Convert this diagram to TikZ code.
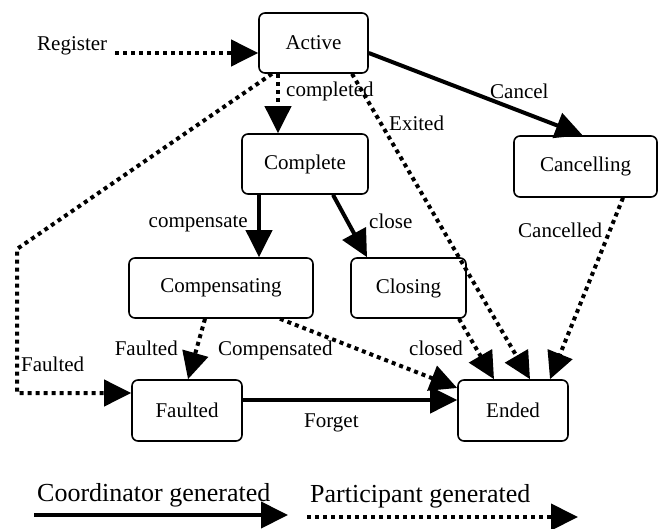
\documentclass[tikz,border=0pt]{standalone}
\usepackage{fontspec}
\setmainfont{Liberation Serif}
\usetikzlibrary{arrows.meta,calc}
\begin{document}
\begin{tikzpicture}[x=1pt,y=-1pt,
  state/.style={draw, rounded corners=6pt, line width=1.6pt, inner sep=0pt,
    font=\fontsize{21}{24}\selectfont},
  lbl/.style={inner sep=0pt, font=\fontsize{21}{24}\selectfont},
  leg/.style={inner sep=0pt, font=\fontsize{26}{30}\selectfont},
  solidarr/.style={line width=4pt, -{Triangle[length=27pt,width=26pt]}},
  dotarr/.style={line width=4pt, dash pattern=on 4pt off 4pt,
    -{Triangle[length=27pt,width=26pt]}},
]
\useasboundingbox (0,0) rectangle (660,529);

% states
\node[state, minimum width=109pt, minimum height=60pt] (active) at (313.5,43) {Active};
\node[state, minimum width=126pt, minimum height=60pt] (complete) at (305,164) {Complete};
\node[state, minimum width=143pt, minimum height=61pt] (cancelling) at (585.5,166.5) {Cancelling};
\node[state, minimum width=184pt, minimum height=60pt] (compensating) at (221,288) {Compensating};
\node[state, minimum width=115pt, minimum height=60pt] (closing) at (408.5,288) {Closing};
\node[state, minimum width=110pt, minimum height=61pt] (faulted) at (187,410.5) {Faulted};
\node[state, minimum width=110pt, minimum height=61pt] (ended) at (513,410.5) {Ended};

% labels
\node[lbl, anchor=base west] (lreg) at (37,51) {Register};
\node[lbl, anchor=base west] (lcompleted) at (286,97) {completed};
\node[lbl, anchor=base west] (lfaultedA) at (21,371) {Faulted};
\node[lbl, anchor=base west] (lexited) at (389,131) {Exited};
\node[lbl, anchor=base west] (lcancel) at (490,99) {Cancel};
\node[lbl, anchor=base east] (lcompensate) at (248,227) {compensate};
\node[lbl, anchor=base west] (lclose) at (369,228) {close};
\node[lbl, anchor=base west] (lcancelled) at (518,237) {Cancelled};
\node[lbl, anchor=base east] (lfaultedB) at (178,355) {Faulted};
\node[lbl, anchor=base west] (lcompensated) at (218,355) {Compensated};
\node[lbl, anchor=base west] (lclosed) at (409,355) {closed};
\node[lbl, anchor=base west] (lforget) at (304,427) {Forget};
\node[leg, anchor=base west] (lcoord) at (37,501) {Coordinator generated};
\node[leg, anchor=base west] (lpart) at (310,502) {Participant generated};

% free ends
\coordinate (regstart) at (115,53);
\coordinate (fbend) at (17,249);
\coordinate (l1a) at (34,515);
\coordinate (l1b) at (288,515);
\coordinate (l2a) at (307,517);
\coordinate (l2b) at (578,517);

% connectors
\draw[dotarr] (regstart) -- ($(active.west)+(0,10)$);
\draw[dotarr] ($(active.south)+(-35.5,0)$) -- ($(complete.north)+(-27,0)$);
\draw[dotarr] ($(active.south)+(-41.5,0)$) -- (fbend) |- ($(faulted.west)+(0,-17.5)$);
\draw[dotarr] ($(active.south)+(38.5,0)$) -- ($(ended.north)+(17,0)$);
\draw[solidarr] ($(active.east)+(0,10)$) -- ($(cancelling.north)+(-3,0)$);
\draw[solidarr] ($(complete.south)+(-46,0)$) -- ($(compensating.north)+(38,0)$);
\draw[solidarr] ($(complete.south)+(28,0)$) -- ($(closing.north)+(-41.5,0)$);
\draw[dotarr] ($(cancelling.south)+(37.5,0)$) -- ($(ended.north)+(37,0)$);
\draw[dotarr] ($(compensating.south)+(-16,0)$) -- ($(faulted.north)+(1,0)$);
\draw[dotarr] ($(compensating.south)+(59,0)$) -- ($(ended.west)+(0,-22.5)$);
\draw[dotarr] ($(closing.south)+(50.5,0)$) -- ($(ended.north)+(-19,0)$);
\draw[solidarr] ($(faulted.east)+(0,-10.5)$) -- ($(ended.west)+(0,-10.5)$);

% legend
\draw[solidarr] (l1a) -- (l1b);
\draw[dotarr] (l2a) -- (l2b);
\end{tikzpicture}
\end{document}
